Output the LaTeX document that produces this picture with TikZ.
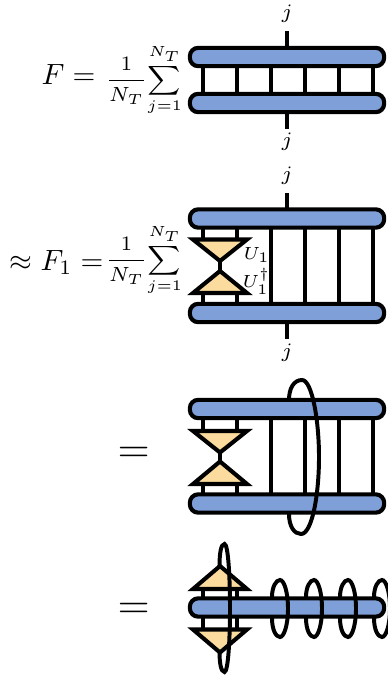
\documentclass[tikz,border=0pt]{standalone}
\usepackage{amsmath}
\definecolor{barblue}{HTML}{7F9FD8}
\definecolor{gatepeach}{HTML}{FBDC9E}
\tikzset{
  bar/.style={draw, fill=barblue, line width=1.4pt, rounded corners=0.1cm, minimum width=2.33cm, minimum height=0.22cm, inner sep=0pt, outer sep=0pt},
  leg/.style={line width=1.25pt},
  gate/.style={draw, fill=gatepeach, line width=1.4pt},
  loopline/.style={line width=1.35pt},
  eqtext/.style={anchor=base west, inner sep=0pt},
  sumtext/.style={anchor=west, inner sep=0pt, font=\scriptsize},
  idx/.style={inner sep=0pt, font=\scriptsize},
  gatelabel/.style={anchor=west, inner sep=0pt, font=\fontsize{6.2}{7}\selectfont}
}
\begin{document}
\begin{tikzpicture}[x=0.012cm, y=-0.012cm]
    \useasboundingbox (0,0) rectangle (388,675);

    % First row
    \node[eqtext] (lhsA) at (41,85) {$F=$};
    \node[sumtext] (sumA) at (105,80) {$\displaystyle\frac{1}{N_T}\!\sum_{j=1}^{N_T}$};
    \node[bar] (topA) at (287,57) {};
    \node[bar] (botA) at (287,103) {};
    \foreach \x in {203,237,271,305,339,373}
        \draw[leg] (\x,0 |- topA.south) -- (\x,0 |- botA.north);
    \node[idx] (jtopA) at (287,14) {$j$};
    \node[idx] (jbotA) at (287,142) {$j$};
    \coordinate (legtopA) at (287,31);
    \coordinate (legbotA) at (287,129);
    \draw[leg] (legtopA) -- (topA.north);
    \draw[leg] (legbotA) -- (botA.south);

    % Second row
    \node[eqtext] (lhsB) at (9,270) {$\approx F_1=$};
    \node[sumtext] (sumB) at (105,260) {$\displaystyle\frac{1}{N_T}\!\sum_{j=1}^{N_T}$};
    \node[bar] (topB) at (287,218.5) {};
    \node[bar] (botB) at (287,313) {};
    \foreach \x in {271,305,339,373}
        \draw[leg] (\x,0 |- topB.south) -- (\x,0 |- botB.north);
    \foreach \x in {203,237} {
        \draw[leg] (\x,0 |- topB.south) -- (\x,240);
        \draw[leg] (\x,0 |- botB.north) -- (\x,293);
    }
    \draw[gate] (193,239.5) -- (247,239.5) -- (220,261) -- cycle;
    \draw[gate] (193,293) -- (247,293) -- (220,271) -- cycle;
    \draw[leg] (220,261) -- (220,271);
    \node[gatelabel] (uB) at (243,255) {$U_1$};
    \node[gatelabel] (udagB) at (242,281) {$U_1^\dagger$};
    \node[idx] (jtopB) at (287,176) {$j$};
    \node[idx] (jbotB) at (287,353) {$j$};
    \coordinate (legtopB) at (287,193);
    \coordinate (legbotB) at (287,339);
    \draw[leg] (legtopB) -- (topB.north);
    \draw[leg] (legbotB) -- (botB.south);

    % Third row
    \node[eqtext, font=\Large] (eqC) at (117,462) {$=$};
    \node[bar] (topC) at (287,409) {};
    \node[bar] (botC) at (287,503.5) {};
    \foreach \x in {271,305,339,373}
        \draw[leg] (\x,0 |- topC.south) -- (\x,0 |- botC.north);
    \foreach \x in {203,237} {
        \draw[leg] (\x,0 |- topC.south) -- (\x,431);
        \draw[leg] (\x,0 |- botC.north) -- (\x,484);
    }
    \draw[gate] (193,431) -- (247,431) -- (220,452.5) -- cycle;
    \draw[gate] (193,484) -- (247,484) -- (220,461.5) -- cycle;
    \draw[leg] (220,452.5) -- (220,461.5);
    % Loop goes behind the bars on its left side
    \draw[loopline] (289,400) .. controls (289,388) and (294,380) .. (302,380)
        .. controls (312,380) and (319,420) .. (319,457)
        .. controls (319,495) and (312,534) .. (301,534)
        .. controls (294,534) and (289,526) .. (289,514);

    % Fourth row
    \node[eqtext, font=\Large] (eqD) at (117,618) {$=$};
    \node[bar] (barD) at (287,607.5) {};
    \foreach \x in {203,237} {
        \draw[leg] (\x,0 |- barD.north) -- (\x,589);
        \draw[leg] (\x,0 |- barD.south) -- (\x,629.5);
    }
    \draw[gate] (193,589) -- (247,589) -- (220,566) -- cycle;
    \draw[gate] (193,629.5) -- (247,629.5) -- (220,652.5) -- cycle;
    % Loops
    \draw[loopline] (219.5,566) .. controls (219.5,553) and (221,544) .. (224.5,544)
        .. controls (228,544) and (230,575) .. (230,608)
        .. controls (230,641) and (228,672) .. (224.5,672)
        .. controls (221,672) and (219.5,663) .. (219.5,652);
    \foreach \x in {280,314,348,382}
        \draw[loopline] ({\x-8},597) .. controls ({\x-8},587) and ({\x-4},580) .. (\x,580)
            .. controls ({\x+4},580) and ({\x+8},592) .. ({\x+8},608.5)
            .. controls ({\x+8},625) and ({\x+4},637) .. (\x,637)
            .. controls ({\x-4},637) and ({\x-8},630) .. ({\x-8},618);
\end{tikzpicture}
\end{document}
